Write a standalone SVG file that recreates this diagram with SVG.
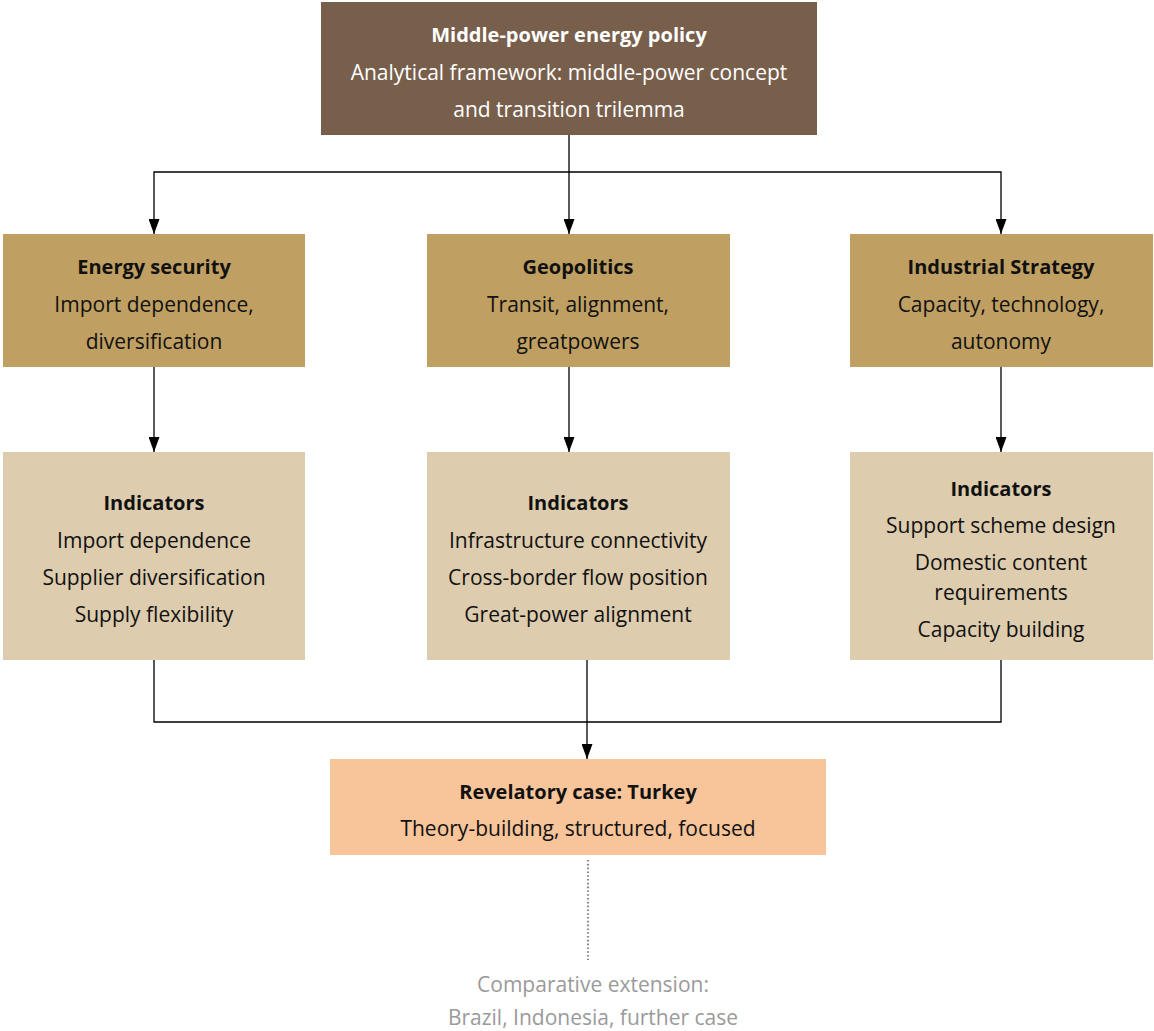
<svg xmlns="http://www.w3.org/2000/svg" width="1154" height="1031" viewBox="0 0 1154 1031">
  <defs>
    <marker id="arrow" viewBox="0 0 15 11" refX="15" refY="5.5" markerWidth="15" markerHeight="11" markerUnits="userSpaceOnUse" orient="auto">
      <path d="M0,0 L15,5.5 L0,11 z" fill="#000"/>
    </marker>
  </defs>
  <style>
    text { font-family: "Open Sans", "Noto Sans", sans-serif; font-size: 21px; text-anchor: middle; fill: #111; }
    .b { font-weight: bold; font-size: 20px; }
    .light { fill: #fff; }
    .grey { fill: #9a9a9a; }
    .top { fill: #785f4c; }
    .dim { fill: #c0a062; }
    .ind { fill: #ddccae; }
    .case { fill: #f8c59b; }
    .link { fill: none; stroke: #000; stroke-width: 1.3; }
    .dots { fill: none; stroke: #8a8a8a; stroke-width: 2.2; stroke-dasharray: 1.6 2.2; }
  </style>

  <g id="connectors">
    <path class="link" d="M569,135 V172 H154 V234" marker-end="url(#arrow)"/>
    <path class="link" d="M569,172 V234" marker-end="url(#arrow)"/>
    <path class="link" d="M569,172 H1001 V234" marker-end="url(#arrow)"/>
    <path class="link" d="M154,367 V452" marker-end="url(#arrow)"/>
    <path class="link" d="M569,367 V452" marker-end="url(#arrow)"/>
    <path class="link" d="M1001,367 V452" marker-end="url(#arrow)"/>
    <path class="link" d="M154,660 V722 H1001 V660"/>
    <path class="link" d="M587,660 V759" marker-end="url(#arrow)"/>
    <path class="dots" d="M588,860 V960"/>
  </g>

  <g id="framework">
    <rect class="top" x="321" y="2" width="496" height="133"/>
    <text class="b light" x="569" y="42">Middle-power energy policy</text>
    <text class="light" x="569" y="80">Analytical framework: middle-power concept</text>
    <text class="light" x="569" y="117">and transition trilemma</text>
  </g>

  <g id="energy-security">
    <rect class="dim" x="3" y="234" width="302" height="133"/>
    <text class="b" x="154" y="274">Energy security</text>
    <text x="154" y="312">Import dependence,</text>
    <text x="154" y="349">diversification</text>
  </g>

  <g id="geopolitics">
    <rect class="dim" x="427" y="234" width="303" height="133"/>
    <text class="b" x="578" y="274">Geopolitics</text>
    <text x="578" y="312">Transit, alignment,</text>
    <text x="578" y="349">greatpowers</text>
  </g>

  <g id="industrial-strategy">
    <rect class="dim" x="850" y="234" width="303" height="133"/>
    <text class="b" x="1001" y="274">Industrial Strategy</text>
    <text x="1001" y="312">Capacity, technology,</text>
    <text x="1001" y="349">autonomy</text>
  </g>

  <g id="indicators-security">
    <rect class="ind" x="3" y="452" width="302" height="208"/>
    <text class="b" x="154" y="510">Indicators</text>
    <text x="154" y="548">Import dependence</text>
    <text x="154" y="585">Supplier diversification</text>
    <text x="154" y="622">Supply flexibility</text>
  </g>

  <g id="indicators-geopolitics">
    <rect class="ind" x="427" y="452" width="303" height="208"/>
    <text class="b" x="578" y="510">Indicators</text>
    <text x="578" y="548">Infrastructure connectivity</text>
    <text x="578" y="585">Cross-border flow position</text>
    <text x="578" y="622">Great-power alignment</text>
  </g>

  <g id="indicators-industrial">
    <rect class="ind" x="850" y="452" width="303" height="208"/>
    <text class="b" x="1001" y="496">Indicators</text>
    <text x="1001" y="533">Support scheme design</text>
    <text x="1001" y="570">Domestic content</text>
    <text x="1001" y="600">requirements</text>
    <text x="1001" y="637">Capacity building</text>
  </g>

  <g id="case-turkey">
    <rect class="case" x="330" y="759" width="496" height="96"/>
    <text class="b" x="578" y="799">Revelatory case: Turkey</text>
    <text x="578" y="836">Theory-building, structured, focused</text>
  </g>

  <g id="comparative-extension">
    <text class="grey" x="593" y="992">Comparative extension:</text>
    <text class="grey" x="593" y="1025">Brazil, Indonesia, further case</text>
  </g>
</svg>
